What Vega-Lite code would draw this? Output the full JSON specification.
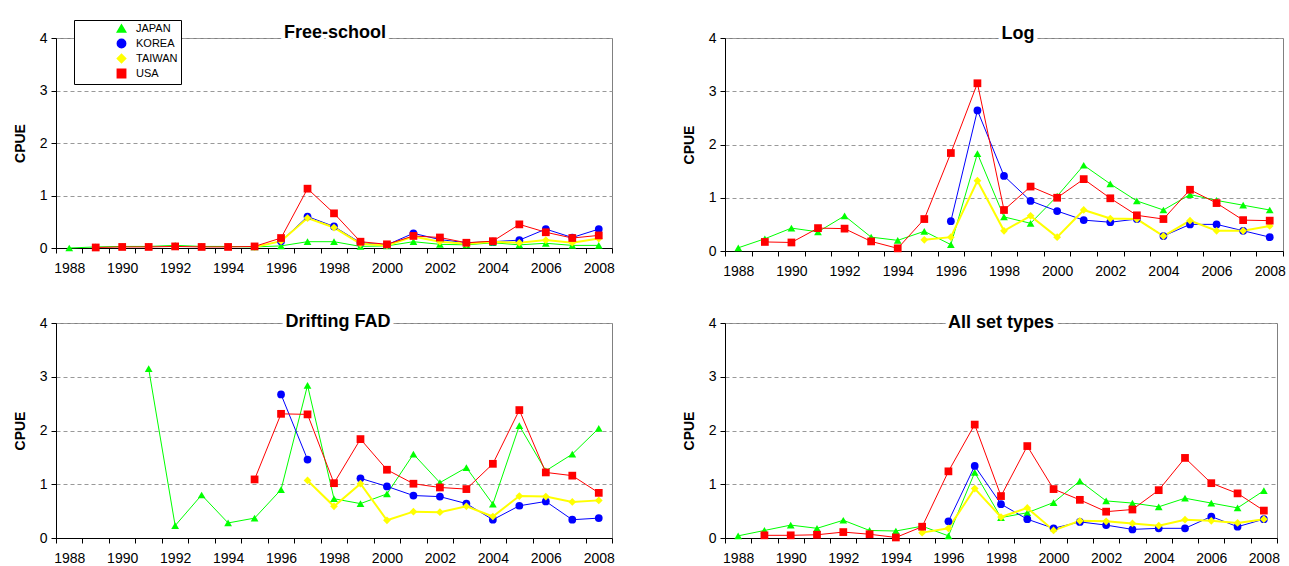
{
"$schema": "https://vega.github.io/schema/vega-lite/v6.json",
"background": "white",
"padding": {"left": 12, "top": 19, "right": 0, "bottom": 0},
"datasets": {
"fs": [
{"country":"JAPAN","year":1988,"cpue":0},{"country":"JAPAN","year":1989,"cpue":0.02},{"country":"JAPAN","year":1990,"cpue":0.03},{"country":"JAPAN","year":1991,"cpue":0.03},{"country":"JAPAN","year":1992,"cpue":0.05},{"country":"JAPAN","year":1993,"cpue":0.03},{"country":"JAPAN","year":1994,"cpue":0.03},{"country":"JAPAN","year":1995,"cpue":0.02},{"country":"JAPAN","year":1996,"cpue":0.04},{"country":"JAPAN","year":1997,"cpue":0.12},{"country":"JAPAN","year":1998,"cpue":0.12},{"country":"JAPAN","year":1999,"cpue":0.03},{"country":"JAPAN","year":2000,"cpue":0.04},{"country":"JAPAN","year":2001,"cpue":0.12},{"country":"JAPAN","year":2002,"cpue":0.07},{"country":"JAPAN","year":2003,"cpue":0.06},{"country":"JAPAN","year":2004,"cpue":0.1},{"country":"JAPAN","year":2005,"cpue":0.06},{"country":"JAPAN","year":2006,"cpue":0.09},{"country":"JAPAN","year":2007,"cpue":0.05},{"country":"JAPAN","year":2008,"cpue":0.05},
{"country":"KOREA","year":1996,"cpue":0.13},{"country":"KOREA","year":1997,"cpue":0.6},{"country":"KOREA","year":1998,"cpue":0.41},{"country":"KOREA","year":1999,"cpue":0.1},{"country":"KOREA","year":2000,"cpue":0.06},{"country":"KOREA","year":2001,"cpue":0.28},{"country":"KOREA","year":2002,"cpue":0.16},{"country":"KOREA","year":2003,"cpue":0.1},{"country":"KOREA","year":2004,"cpue":0.12},{"country":"KOREA","year":2005,"cpue":0.15},{"country":"KOREA","year":2006,"cpue":0.36},{"country":"KOREA","year":2007,"cpue":0.2},{"country":"KOREA","year":2008,"cpue":0.36},
{"country":"TAIWAN","year":1995,"cpue":0.02},{"country":"TAIWAN","year":1996,"cpue":0.13},{"country":"TAIWAN","year":1997,"cpue":0.57},{"country":"TAIWAN","year":1998,"cpue":0.39},{"country":"TAIWAN","year":1999,"cpue":0.08},{"country":"TAIWAN","year":2000,"cpue":0.05},{"country":"TAIWAN","year":2001,"cpue":0.22},{"country":"TAIWAN","year":2002,"cpue":0.12},{"country":"TAIWAN","year":2003,"cpue":0.08},{"country":"TAIWAN","year":2004,"cpue":0.12},{"country":"TAIWAN","year":2005,"cpue":0.1},{"country":"TAIWAN","year":2006,"cpue":0.15},{"country":"TAIWAN","year":2007,"cpue":0.1},{"country":"TAIWAN","year":2008,"cpue":0.18},
{"country":"USA","year":1989,"cpue":0.01},{"country":"USA","year":1990,"cpue":0.02},{"country":"USA","year":1991,"cpue":0.02},{"country":"USA","year":1992,"cpue":0.03},{"country":"USA","year":1993,"cpue":0.02},{"country":"USA","year":1994,"cpue":0.02},{"country":"USA","year":1995,"cpue":0.03},{"country":"USA","year":1996,"cpue":0.19},{"country":"USA","year":1997,"cpue":1.13},{"country":"USA","year":1998,"cpue":0.66},{"country":"USA","year":1999,"cpue":0.12},{"country":"USA","year":2000,"cpue":0.07},{"country":"USA","year":2001,"cpue":0.23},{"country":"USA","year":2002,"cpue":0.2},{"country":"USA","year":2003,"cpue":0.1},{"country":"USA","year":2004,"cpue":0.13},{"country":"USA","year":2005,"cpue":0.45},{"country":"USA","year":2006,"cpue":0.3},{"country":"USA","year":2007,"cpue":0.19},{"country":"USA","year":2008,"cpue":0.24}
],
"log": [
{"country":"JAPAN","year":1988,"cpue":0.06},{"country":"JAPAN","year":1989,"cpue":0.23},{"country":"JAPAN","year":1990,"cpue":0.43},{"country":"JAPAN","year":1991,"cpue":0.36},{"country":"JAPAN","year":1992,"cpue":0.66},{"country":"JAPAN","year":1993,"cpue":0.26},{"country":"JAPAN","year":1994,"cpue":0.2},{"country":"JAPAN","year":1995,"cpue":0.37},{"country":"JAPAN","year":1996,"cpue":0.12},{"country":"JAPAN","year":1997,"cpue":1.83},{"country":"JAPAN","year":1998,"cpue":0.64},{"country":"JAPAN","year":1999,"cpue":0.52},{"country":"JAPAN","year":2000,"cpue":1.03},{"country":"JAPAN","year":2001,"cpue":1.61},{"country":"JAPAN","year":2002,"cpue":1.26},{"country":"JAPAN","year":2003,"cpue":0.94},{"country":"JAPAN","year":2004,"cpue":0.77},{"country":"JAPAN","year":2005,"cpue":1.06},{"country":"JAPAN","year":2006,"cpue":0.95},{"country":"JAPAN","year":2007,"cpue":0.86},{"country":"JAPAN","year":2008,"cpue":0.77},
{"country":"KOREA","year":1996,"cpue":0.56},{"country":"KOREA","year":1997,"cpue":2.64},{"country":"KOREA","year":1998,"cpue":1.41},{"country":"KOREA","year":1999,"cpue":0.94},{"country":"KOREA","year":2000,"cpue":0.75},{"country":"KOREA","year":2001,"cpue":0.58},{"country":"KOREA","year":2002,"cpue":0.54},{"country":"KOREA","year":2003,"cpue":0.6},{"country":"KOREA","year":2004,"cpue":0.28},{"country":"KOREA","year":2005,"cpue":0.5},{"country":"KOREA","year":2006,"cpue":0.5},{"country":"KOREA","year":2007,"cpue":0.38},{"country":"KOREA","year":2008,"cpue":0.26},
{"country":"TAIWAN","year":1995,"cpue":0.21},{"country":"TAIWAN","year":1996,"cpue":0.26},{"country":"TAIWAN","year":1997,"cpue":1.32},{"country":"TAIWAN","year":1998,"cpue":0.38},{"country":"TAIWAN","year":1999,"cpue":0.66},{"country":"TAIWAN","year":2000,"cpue":0.26},{"country":"TAIWAN","year":2001,"cpue":0.77},{"country":"TAIWAN","year":2002,"cpue":0.61},{"country":"TAIWAN","year":2003,"cpue":0.6},{"country":"TAIWAN","year":2004,"cpue":0.28},{"country":"TAIWAN","year":2005,"cpue":0.57},{"country":"TAIWAN","year":2006,"cpue":0.38},{"country":"TAIWAN","year":2007,"cpue":0.38},{"country":"TAIWAN","year":2008,"cpue":0.47},
{"country":"USA","year":1989,"cpue":0.17},{"country":"USA","year":1990,"cpue":0.16},{"country":"USA","year":1991,"cpue":0.43},{"country":"USA","year":1992,"cpue":0.42},{"country":"USA","year":1993,"cpue":0.18},{"country":"USA","year":1994,"cpue":0.05},{"country":"USA","year":1995,"cpue":0.6},{"country":"USA","year":1996,"cpue":1.84},{"country":"USA","year":1997,"cpue":3.15},{"country":"USA","year":1998,"cpue":0.77},{"country":"USA","year":1999,"cpue":1.21},{"country":"USA","year":2000,"cpue":1.0},{"country":"USA","year":2001,"cpue":1.35},{"country":"USA","year":2002,"cpue":0.99},{"country":"USA","year":2003,"cpue":0.67},{"country":"USA","year":2004,"cpue":0.6},{"country":"USA","year":2005,"cpue":1.15},{"country":"USA","year":2006,"cpue":0.9},{"country":"USA","year":2007,"cpue":0.58},{"country":"USA","year":2008,"cpue":0.57}
],
"fad": [
{"country":"JAPAN","year":1991,"cpue":3.15},{"country":"JAPAN","year":1992,"cpue":0.23},{"country":"JAPAN","year":1993,"cpue":0.8},{"country":"JAPAN","year":1994,"cpue":0.28},{"country":"JAPAN","year":1995,"cpue":0.37},{"country":"JAPAN","year":1996,"cpue":0.9},{"country":"JAPAN","year":1997,"cpue":2.84},{"country":"JAPAN","year":1998,"cpue":0.73},{"country":"JAPAN","year":1999,"cpue":0.64},{"country":"JAPAN","year":2000,"cpue":0.82},{"country":"JAPAN","year":2001,"cpue":1.56},{"country":"JAPAN","year":2002,"cpue":1.03},{"country":"JAPAN","year":2003,"cpue":1.31},{"country":"JAPAN","year":2004,"cpue":0.63},{"country":"JAPAN","year":2005,"cpue":2.09},{"country":"JAPAN","year":2006,"cpue":1.25},{"country":"JAPAN","year":2007,"cpue":1.56},{"country":"JAPAN","year":2008,"cpue":2.04},
{"country":"KOREA","year":1996,"cpue":2.67},{"country":"KOREA","year":1997,"cpue":1.46},{"country":"KOREA","year":1998,"cpue":null},{"country":"KOREA","year":1999,"cpue":1.11},{"country":"KOREA","year":2000,"cpue":0.96},{"country":"KOREA","year":2001,"cpue":0.79},{"country":"KOREA","year":2002,"cpue":0.77},{"country":"KOREA","year":2003,"cpue":0.64},{"country":"KOREA","year":2004,"cpue":0.34},{"country":"KOREA","year":2005,"cpue":0.6},{"country":"KOREA","year":2006,"cpue":0.68},{"country":"KOREA","year":2007,"cpue":0.34},{"country":"KOREA","year":2008,"cpue":0.37},
{"country":"TAIWAN","year":1997,"cpue":1.07},{"country":"TAIWAN","year":1998,"cpue":0.59},{"country":"TAIWAN","year":1999,"cpue":1.01},{"country":"TAIWAN","year":2000,"cpue":0.33},{"country":"TAIWAN","year":2001,"cpue":0.49},{"country":"TAIWAN","year":2002,"cpue":0.48},{"country":"TAIWAN","year":2003,"cpue":0.59},{"country":"TAIWAN","year":2004,"cpue":0.4},{"country":"TAIWAN","year":2005,"cpue":0.78},{"country":"TAIWAN","year":2006,"cpue":0.77},{"country":"TAIWAN","year":2007,"cpue":0.67},{"country":"TAIWAN","year":2008,"cpue":0.7},
{"country":"USA","year":1995,"cpue":1.09},{"country":"USA","year":1996,"cpue":2.31},{"country":"USA","year":1997,"cpue":2.3},{"country":"USA","year":1998,"cpue":1.02},{"country":"USA","year":1999,"cpue":1.84},{"country":"USA","year":2000,"cpue":1.27},{"country":"USA","year":2001,"cpue":1.01},{"country":"USA","year":2002,"cpue":0.94},{"country":"USA","year":2003,"cpue":0.91},{"country":"USA","year":2004,"cpue":1.38},{"country":"USA","year":2005,"cpue":2.38},{"country":"USA","year":2006,"cpue":1.22},{"country":"USA","year":2007,"cpue":1.16},{"country":"USA","year":2008,"cpue":0.84}
],
"all": [
{"country":"JAPAN","year":1988,"cpue":0.04},{"country":"JAPAN","year":1989,"cpue":0.14},{"country":"JAPAN","year":1990,"cpue":0.24},{"country":"JAPAN","year":1991,"cpue":0.18},{"country":"JAPAN","year":1992,"cpue":0.33},{"country":"JAPAN","year":1993,"cpue":0.14},{"country":"JAPAN","year":1994,"cpue":0.13},{"country":"JAPAN","year":1995,"cpue":0.22},{"country":"JAPAN","year":1996,"cpue":0.04},{"country":"JAPAN","year":1997,"cpue":1.22},{"country":"JAPAN","year":1998,"cpue":0.38},{"country":"JAPAN","year":1999,"cpue":0.47},{"country":"JAPAN","year":2000,"cpue":0.66},{"country":"JAPAN","year":2001,"cpue":1.06},{"country":"JAPAN","year":2002,"cpue":0.69},{"country":"JAPAN","year":2003,"cpue":0.65},{"country":"JAPAN","year":2004,"cpue":0.58},{"country":"JAPAN","year":2005,"cpue":0.74},{"country":"JAPAN","year":2006,"cpue":0.65},{"country":"JAPAN","year":2007,"cpue":0.56},{"country":"JAPAN","year":2008,"cpue":0.88},
{"country":"KOREA","year":1996,"cpue":0.31},{"country":"KOREA","year":1997,"cpue":1.34},{"country":"KOREA","year":1998,"cpue":0.63},{"country":"KOREA","year":1999,"cpue":0.35},{"country":"KOREA","year":2000,"cpue":0.18},{"country":"KOREA","year":2001,"cpue":0.3},{"country":"KOREA","year":2002,"cpue":0.24},{"country":"KOREA","year":2003,"cpue":0.16},{"country":"KOREA","year":2004,"cpue":0.18},{"country":"KOREA","year":2005,"cpue":0.18},{"country":"KOREA","year":2006,"cpue":0.4},{"country":"KOREA","year":2007,"cpue":0.21},{"country":"KOREA","year":2008,"cpue":0.35},
{"country":"TAIWAN","year":1995,"cpue":0.1},{"country":"TAIWAN","year":1996,"cpue":0.18},{"country":"TAIWAN","year":1997,"cpue":0.92},{"country":"TAIWAN","year":1998,"cpue":0.39},{"country":"TAIWAN","year":1999,"cpue":0.56},{"country":"TAIWAN","year":2000,"cpue":0.14},{"country":"TAIWAN","year":2001,"cpue":0.32},{"country":"TAIWAN","year":2002,"cpue":0.31},{"country":"TAIWAN","year":2003,"cpue":0.27},{"country":"TAIWAN","year":2004,"cpue":0.23},{"country":"TAIWAN","year":2005,"cpue":0.34},{"country":"TAIWAN","year":2006,"cpue":0.32},{"country":"TAIWAN","year":2007,"cpue":0.28},{"country":"TAIWAN","year":2008,"cpue":0.35},
{"country":"USA","year":1989,"cpue":0.05},{"country":"USA","year":1990,"cpue":0.05},{"country":"USA","year":1991,"cpue":0.06},{"country":"USA","year":1992,"cpue":0.11},{"country":"USA","year":1993,"cpue":0.07},{"country":"USA","year":1994,"cpue":0.01},{"country":"USA","year":1995,"cpue":0.21},{"country":"USA","year":1996,"cpue":1.24},{"country":"USA","year":1997,"cpue":2.11},{"country":"USA","year":1998,"cpue":0.78},{"country":"USA","year":1999,"cpue":1.71},{"country":"USA","year":2000,"cpue":0.91},{"country":"USA","year":2001,"cpue":0.71},{"country":"USA","year":2002,"cpue":0.49},{"country":"USA","year":2003,"cpue":0.53},{"country":"USA","year":2004,"cpue":0.89},{"country":"USA","year":2005,"cpue":1.49},{"country":"USA","year":2006,"cpue":1.02},{"country":"USA","year":2007,"cpue":0.83},{"country":"USA","year":2008,"cpue":0.51}
]
},
"spacing": 33,
"resolve": {"scale": {"x": "independent", "y": "independent", "color": "independent", "shape": "independent"}},
"vconcat": [
{"spacing": 66,
 "resolve": {"scale": {"x": "independent", "y": "independent", "color": "independent", "shape": "independent"}},
 "hconcat": [
 {"width": 556, "height": 210, "data": {"name": "fs"},
  "layer": [
   {"mark": {"type": "line", "invalid": "break-paths-filter-domains"},
    "encoding": {
     "x": {"field": "year", "type": "ordinal", "scale": {"type": "band", "domain": [1988,1989,1990,1991,1992,1993,1994,1995,1996,1997,1998,1999,2000,2001,2002,2003,2004,2005,2006,2007,2008], "paddingInner": 0, "paddingOuter": 0}, "axis": {"title": null}},
     "y": {"field": "cpue", "type": "quantitative", "scale": {"domain": [0, 4], "nice": false}, "axis": {"values": [0,1,2,3,4], "title": "CPUE"}},
     "color": {"field": "country", "type": "nominal", "scale": {"domain": ["JAPAN","KOREA","TAIWAN","USA"], "range": ["#00ff00","#0000ff","#ffff00","#ff0000"]},
       "legend": {"orient": "none", "legendX": 18, "legendY": -18, "title": null, "strokeColor": "black", "fillColor": "white", "padding": 3, "rowPadding": 0, "symbolOffset": 39, "labelOffset": 9, "labelFontSize": 11, "labelFont": "Liberation Sans", "labelColor": "black", "symbolSize": 70}},
     "strokeWidth": {"condition": {"test": "datum.country === 'TAIWAN'", "value": 2}, "value": 1}}},
   {"mark": {"type": "point", "filled": true, "opacity": 1, "size": 60},
    "encoding": {
     "x": {"field": "year", "type": "ordinal", "axis": {"title": null}},
     "y": {"field": "cpue", "type": "quantitative", "axis": {"values": [0,1,2,3,4], "title": "CPUE"}},
     "color": {"field": "country", "type": "nominal", "scale": {"domain": ["JAPAN","KOREA","TAIWAN","USA"], "range": ["#00ff00","#0000ff","#ffff00","#ff0000"]},
       "legend": {"orient": "none", "legendX": 18, "legendY": -18, "title": null, "strokeColor": "black", "fillColor": "white", "padding": 3, "rowPadding": 0, "symbolOffset": 39, "labelOffset": 9, "labelFontSize": 11, "labelFont": "Liberation Sans", "labelColor": "black", "symbolSize": 70}},
     "shape": {"field": "country", "type": "nominal", "scale": {"domain": ["JAPAN","KOREA","TAIWAN","USA"], "range": ["triangle-up","circle","diamond","square"]}, "legend": null}}},
   {"data": {"values": [{"label": "Free-school"}]},
    "mark": {"type": "text", "font": "Liberation Sans", "fontSize": 18, "fontWeight": "bold", "fill": "white", "stroke": "white", "strokeWidth": 8, "baseline": "alphabetic", "dy": 0, "dx": 1},
    "encoding": {"x": {"datum": 1998, "type": "ordinal"}, "y": {"datum": 4, "type": "quantitative"}, "text": {"field": "label"}}},
   {"data": {"values": [{"label": "Free-school"}]},
    "mark": {"type": "text", "font": "Liberation Sans", "fontSize": 18, "fontWeight": "bold", "fill": "black", "baseline": "alphabetic", "dy": 0, "dx": 1},
    "encoding": {"x": {"datum": 1998, "type": "ordinal"}, "y": {"datum": 4, "type": "quantitative"}, "text": {"field": "label"}}}
  ]},
 {"width": 558, "height": 213, "data": {"name": "log"},
  "layer": [
   {"mark": {"type": "line", "invalid": "break-paths-filter-domains"},
    "encoding": {
     "x": {"field": "year", "type": "ordinal", "scale": {"type": "band", "domain": [1988,1989,1990,1991,1992,1993,1994,1995,1996,1997,1998,1999,2000,2001,2002,2003,2004,2005,2006,2007,2008], "paddingInner": 0, "paddingOuter": 0}, "axis": {"title": null}},
     "y": {"field": "cpue", "type": "quantitative", "scale": {"domain": [0, 4], "nice": false}, "axis": {"values": [0,1,2,3,4], "title": "CPUE"}},
     "color": {"field": "country", "type": "nominal", "scale": {"domain": ["JAPAN","KOREA","TAIWAN","USA"], "range": ["#00ff00","#0000ff","#ffff00","#ff0000"]}, "legend": null},
     "strokeWidth": {"condition": {"test": "datum.country === 'TAIWAN'", "value": 2}, "value": 1}}},
   {"mark": {"type": "point", "filled": true, "opacity": 1, "size": 60},
    "encoding": {
     "x": {"field": "year", "type": "ordinal", "axis": {"title": null}},
     "y": {"field": "cpue", "type": "quantitative", "axis": {"values": [0,1,2,3,4], "title": "CPUE"}},
     "color": {"field": "country", "type": "nominal", "scale": {"domain": ["JAPAN","KOREA","TAIWAN","USA"], "range": ["#00ff00","#0000ff","#ffff00","#ff0000"]}, "legend": null},
     "shape": {"field": "country", "type": "nominal", "scale": {"domain": ["JAPAN","KOREA","TAIWAN","USA"], "range": ["triangle-up","circle","diamond","square"]}, "legend": null}}},
   {"data": {"values": [{"label": "Log"}]},
    "mark": {"type": "text", "font": "Liberation Sans", "fontSize": 18, "fontWeight": "bold", "fill": "white", "stroke": "white", "strokeWidth": 8, "baseline": "alphabetic", "dy": 1, "dx": 14},
    "encoding": {"x": {"datum": 1998, "type": "ordinal"}, "y": {"datum": 4, "type": "quantitative"}, "text": {"field": "label"}}},
   {"data": {"values": [{"label": "Log"}]},
    "mark": {"type": "text", "font": "Liberation Sans", "fontSize": 18, "fontWeight": "bold", "fill": "black", "baseline": "alphabetic", "dy": 1, "dx": 14},
    "encoding": {"x": {"datum": 1998, "type": "ordinal"}, "y": {"datum": 4, "type": "quantitative"}, "text": {"field": "label"}}}
  ]}
 ]},
{"spacing": 66,
 "resolve": {"scale": {"x": "independent", "y": "independent", "color": "independent", "shape": "independent"}},
 "hconcat": [
 {"width": 556, "height": 215, "data": {"name": "fad"},
  "layer": [
   {"mark": {"type": "line", "invalid": "break-paths-filter-domains"},
    "encoding": {
     "x": {"field": "year", "type": "ordinal", "scale": {"type": "band", "domain": [1988,1989,1990,1991,1992,1993,1994,1995,1996,1997,1998,1999,2000,2001,2002,2003,2004,2005,2006,2007,2008], "paddingInner": 0, "paddingOuter": 0}, "axis": {"title": null}},
     "y": {"field": "cpue", "type": "quantitative", "scale": {"domain": [0, 4], "nice": false}, "axis": {"values": [0,1,2,3,4], "title": "CPUE"}},
     "color": {"field": "country", "type": "nominal", "scale": {"domain": ["JAPAN","KOREA","TAIWAN","USA"], "range": ["#00ff00","#0000ff","#ffff00","#ff0000"]}, "legend": null},
     "strokeWidth": {"condition": {"test": "datum.country === 'TAIWAN'", "value": 2}, "value": 1}}},
   {"mark": {"type": "point", "filled": true, "opacity": 1, "size": 60},
    "encoding": {
     "x": {"field": "year", "type": "ordinal", "axis": {"title": null}},
     "y": {"field": "cpue", "type": "quantitative", "axis": {"values": [0,1,2,3,4], "title": "CPUE"}},
     "color": {"field": "country", "type": "nominal", "scale": {"domain": ["JAPAN","KOREA","TAIWAN","USA"], "range": ["#00ff00","#0000ff","#ffff00","#ff0000"]}, "legend": null},
     "shape": {"field": "country", "type": "nominal", "scale": {"domain": ["JAPAN","KOREA","TAIWAN","USA"], "range": ["triangle-up","circle","diamond","square"]}, "legend": null}}},
   {"data": {"values": [{"label": "Drifting FAD"}]},
    "mark": {"type": "text", "font": "Liberation Sans", "fontSize": 18, "fontWeight": "bold", "fill": "white", "stroke": "white", "strokeWidth": 8, "baseline": "alphabetic", "dy": 4, "dx": 4},
    "encoding": {"x": {"datum": 1998, "type": "ordinal"}, "y": {"datum": 4, "type": "quantitative"}, "text": {"field": "label"}}},
   {"data": {"values": [{"label": "Drifting FAD"}]},
    "mark": {"type": "text", "font": "Liberation Sans", "fontSize": 18, "fontWeight": "bold", "fill": "black", "baseline": "alphabetic", "dy": 4, "dx": 4},
    "encoding": {"x": {"datum": 1998, "type": "ordinal"}, "y": {"datum": 4, "type": "quantitative"}, "text": {"field": "label"}}}
  ]},
 {"width": 552, "height": 215, "data": {"name": "all"},
  "layer": [
   {"mark": {"type": "line", "invalid": "break-paths-filter-domains"},
    "encoding": {
     "x": {"field": "year", "type": "ordinal", "scale": {"type": "band", "domain": [1988,1989,1990,1991,1992,1993,1994,1995,1996,1997,1998,1999,2000,2001,2002,2003,2004,2005,2006,2007,2008], "paddingInner": 0, "paddingOuter": 0}, "axis": {"title": null}},
     "y": {"field": "cpue", "type": "quantitative", "scale": {"domain": [0, 4], "nice": false}, "axis": {"values": [0,1,2,3,4], "title": "CPUE"}},
     "color": {"field": "country", "type": "nominal", "scale": {"domain": ["JAPAN","KOREA","TAIWAN","USA"], "range": ["#00ff00","#0000ff","#ffff00","#ff0000"]}, "legend": null},
     "strokeWidth": {"condition": {"test": "datum.country === 'TAIWAN'", "value": 2}, "value": 1}}},
   {"mark": {"type": "point", "filled": true, "opacity": 1, "size": 60},
    "encoding": {
     "x": {"field": "year", "type": "ordinal", "axis": {"title": null}},
     "y": {"field": "cpue", "type": "quantitative", "axis": {"values": [0,1,2,3,4], "title": "CPUE"}},
     "color": {"field": "country", "type": "nominal", "scale": {"domain": ["JAPAN","KOREA","TAIWAN","USA"], "range": ["#00ff00","#0000ff","#ffff00","#ff0000"]}, "legend": null},
     "shape": {"field": "country", "type": "nominal", "scale": {"domain": ["JAPAN","KOREA","TAIWAN","USA"], "range": ["triangle-up","circle","diamond","square"]}, "legend": null}}},
   {"data": {"values": [{"label": "All set types"}]},
    "mark": {"type": "text", "font": "Liberation Sans", "fontSize": 18, "fontWeight": "bold", "fill": "white", "stroke": "white", "strokeWidth": 8, "baseline": "alphabetic", "dy": 5, "dx": 0},
    "encoding": {"x": {"datum": 1998, "type": "ordinal"}, "y": {"datum": 4, "type": "quantitative"}, "text": {"field": "label"}}},
   {"data": {"values": [{"label": "All set types"}]},
    "mark": {"type": "text", "font": "Liberation Sans", "fontSize": 18, "fontWeight": "bold", "fill": "black", "baseline": "alphabetic", "dy": 5, "dx": 0},
    "encoding": {"x": {"datum": 1998, "type": "ordinal"}, "y": {"datum": 4, "type": "quantitative"}, "text": {"field": "label"}}}
  ]}
 ]}
],
"config": {
 "font": "Liberation Sans",
 "view": {"stroke": "#808080", "strokeWidth": 1},
 "legend": {"labelFontSize": 11, "rowPadding": 0, "symbolSize": 70},
 "axis": {"domainColor": "#000000", "tickColor": "#000000", "labelColor": "#000000", "titleColor": "#000000", "labelFontSize": 14, "labelFont": "Liberation Sans", "titleFont": "Liberation Sans", "tickSize": 5, "domainWidth": 1},
 "axisX": {"labelAngle": 0, "labelOverlap": false, "grid": false, "tickBand": "extent", "labelPadding": 8, "labelExpr": "datum.value % 2 === 0 ? datum.label : ''"},
 "axisY": {"grid": true, "gridDash": [4, 3], "gridColor": "#999999", "titleFontSize": 14, "titleFontWeight": "bold", "titlePadding": 12, "labelPadding": 4, "format": "d"}
}
}
